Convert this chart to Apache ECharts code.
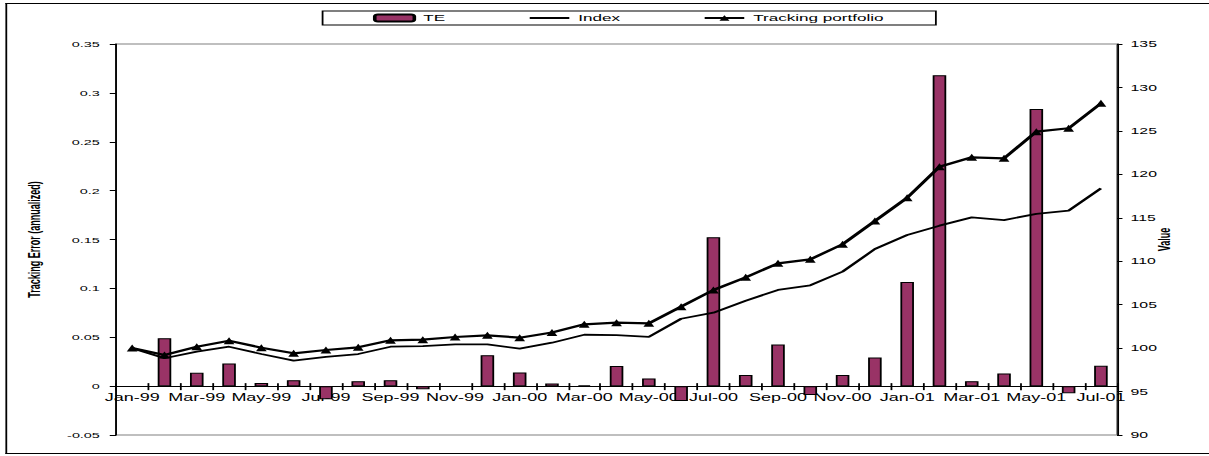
<!DOCTYPE html>
<html>
<head>
<meta charset="utf-8">
<title>Tracking error vs. index and tracking portfolio</title>
<script src="https://cdn.jsdelivr.net/npm/echarts@6/dist/echarts.min.js"></script>
<style>
  html, body { margin: 0; padding: 0; background: #fff; overflow: hidden; }
  /* The chart is laid out on a narrower stage and widened horizontally,
     giving the wide, horizontally stretched look of the spreadsheet export. */
  #stage {
    position: absolute; left: 0; top: 0;
    width: 672px; height: 456px;
    transform: scaleX(1.7991); transform-origin: 0 0;
  }
  #frame {
    position: absolute; left: 3.3px; top: 2.5px;
    width: 720px; height: 451px; box-sizing: border-box;
    border-top: 1px solid #000; border-left: 1.7px solid #000; border-bottom: 1.5px solid #000;
  }
  #chart { position: absolute; left: 0; top: 0; width: 672px; height: 456px; }
</style>
</head>
<body>
<div id="stage">
  <div id="frame"></div>
  <div id="chart"></div>
</div>
<script>
// Monthly observations, January 1999 to July 2001
const months = [
  'Jan-99', 'Feb-99', 'Mar-99', 'Apr-99', 'May-99', 'Jun-99', 'Jul-99', 'Aug-99', 'Sep-99', 'Oct-99', 'Nov-99', 'Dec-99',
  'Jan-00', 'Feb-00', 'Mar-00', 'Apr-00', 'May-00', 'Jun-00', 'Jul-00', 'Aug-00', 'Sep-00', 'Oct-00', 'Nov-00', 'Dec-00',
  'Jan-01', 'Feb-01', 'Mar-01', 'Apr-01', 'May-01', 'Jun-01', 'Jul-01'
];

// Annualized tracking error (left axis)
const teValues = [
  null, 0.049, 0.0136, 0.0232, 0.0031, 0.0061, -0.0133, 0.0051, 0.0061, -0.0031, -0.0008, 0.0317,
  0.014, 0.0027, 0.001, 0.0205, 0.0079, -0.0153, 0.1522, 0.0113, 0.0426, -0.0092, 0.0113, 0.0293,
  0.1064, 0.318, 0.0051, 0.013, 0.2834, -0.0072, 0.0208
];

// Index level, rebased to 100 (right axis)
const indexValues = [
  100, 98.83, 99.6, 100.16, 99.32, 98.55, 99.0, 99.32, 100.16, 100.24, 100.44, 100.44,
  99.93, 100.62, 101.54, 101.5, 101.3, 103.38, 104.08, 105.46, 106.69, 107.23, 108.8, 111.4,
  113.02, 114.09, 115.04, 114.74, 115.44, 115.82, 118.39
];

// Tracking portfolio level, rebased to 100 (right axis)
const trackingValues = [
  100, 99.2, 100.16, 100.85, 100.05, 99.4, 99.78, 100.09, 100.9, 100.97, 101.28, 101.47,
  101.2, 101.8, 102.74, 102.93, 102.85, 104.77, 106.69, 108.15, 109.76, 110.22, 111.95, 114.63,
  117.31, 120.88, 121.96, 121.84, 124.91, 125.3, 128.17
];

// Axis scales
const teAxis = { min: -0.05, max: 0.35, step: 0.05 };
const valueAxis = { min: 90, max: 135, step: 5 };

const FONT = "'Liberation Sans', Arial, Helvetica, sans-serif";

const chart = echarts.init(document.getElementById('chart'), null, { renderer: 'svg' });

chart.setOption({
  animation: false,
  textStyle: { fontFamily: FONT, color: '#000' },
  legend: {
    data: [
      'TE',
      // plain line key, no marker
      { name: 'Index', itemStyle: { color: 'rgba(0,0,0,0)', borderColor: 'rgba(0,0,0,0)', borderWidth: 0 } },
      'Tracking portfolio'
    ],
    left: 179.3,
    top: 11,
    padding: [2, 29, 2, 28],
    itemGap: 46,
    itemWidth: 22,
    itemHeight: 7,
    borderColor: '#000',
    borderWidth: 1,
    backgroundColor: '#fff',
    selectedMode: false,
    textStyle: { fontFamily: FONT, fontSize: 9.5, color: '#000' }
  },
  grid: {
    left: 64.5, right: 51.1, top: 44, bottom: 21,
    show: true, borderColor: '#808080', borderWidth: 1,
    containLabel: false, outerBoundsMode: 'none'
  },
  xAxis: [
    {
      type: 'category',
      data: months,
      position: 'bottom',
      boundaryGap: true,
      offset: 0,
      axisLine: { show: true, onZero: false, lineStyle: { color: '#000', width: 1 } },
      axisTick: { show: true, interval: 0, length: 4, lineStyle: { color: '#000', width: 1 } },
      axisLabel: { interval: 1, margin: 6, fontSize: 10, color: '#000', fontFamily: FONT },
      splitLine: { show: false }
    },
    {
      // upper half of the crossing tick marks on the category axis
      type: 'category',
      data: months,
      position: 'top',
      boundaryGap: true,
      axisLine: { show: false, onZero: true, onZeroAxisIndex: 0 },
      axisTick: { show: true, interval: 0, length: 3, lineStyle: { color: '#000', width: 1 } },
      axisLabel: { show: false },
      splitLine: { show: false }
    }
  ],
  yAxis: [
    {
      type: 'value',
      position: 'left',
      min: teAxis.min, max: teAxis.max, interval: teAxis.step,
      name: 'Tracking Error (annualized)',
      nameLocation: 'middle', nameRotate: 90, nameGap: 41, nameMoveOverlap: false,
      nameTextStyle: { fontFamily: FONT, fontSize: 9, fontWeight: 'bold', color: '#000' },
      axisLine: { show: true, lineStyle: { color: '#000', width: 1 } },
      axisTick: { show: true, length: 3.5, lineStyle: { color: '#000', width: 1 } },
      axisLabel: { fontSize: 8, color: '#000', margin: 9, fontFamily: FONT },
      splitLine: { show: false }
    },
    {
      type: 'value',
      position: 'right',
      min: valueAxis.min, max: valueAxis.max, interval: valueAxis.step,
      name: 'Value',
      nameLocation: 'middle', nameRotate: 90, nameGap: 22, nameMoveOverlap: false,
      nameTextStyle: { fontFamily: FONT, fontSize: 9, fontWeight: 'bold', color: '#000' },
      axisLine: { show: true, lineStyle: { color: '#000', width: 1 } },
      axisTick: { show: true, length: 3, lineStyle: { color: '#000', width: 1 } },
      axisLabel: { fontSize: 8.8, color: '#000', margin: 7.5, fontFamily: FONT },
      splitLine: { show: false }
    }
  ],
  series: [
    {
      name: 'TE',
      type: 'bar',
      xAxisIndex: 0,
      yAxisIndex: 0,
      data: teValues,
      barWidth: '42%',
      itemStyle: { color: '#993366', borderColor: '#000', borderWidth: 1 }
    },
    {
      name: 'Index',
      type: 'line',
      xAxisIndex: 0,
      yAxisIndex: 1,
      data: indexValues,
      symbol: 'none',
      itemStyle: { color: '#000' },
      lineStyle: { color: '#000', width: 1.8 }
    },
    {
      name: 'Tracking portfolio',
      type: 'line',
      xAxisIndex: 0,
      yAxisIndex: 1,
      data: trackingValues,
      symbol: 'triangle',
      symbolSize: [6, 7],
      showSymbol: true,
      itemStyle: { color: '#000' },
      lineStyle: { color: '#000', width: 2.2 }
    }
  ]
});

// Move the category axis (line, ticks and month labels) up to the TE zero level.
const zeroY = chart.convertToPixel({ yAxisIndex: 0 }, 0);
const floorY = chart.convertToPixel({ yAxisIndex: 0 }, teAxis.min);
chart.setOption({ xAxis: [{ offset: zeroY - floorY }] });
</script>
</body>
</html>
